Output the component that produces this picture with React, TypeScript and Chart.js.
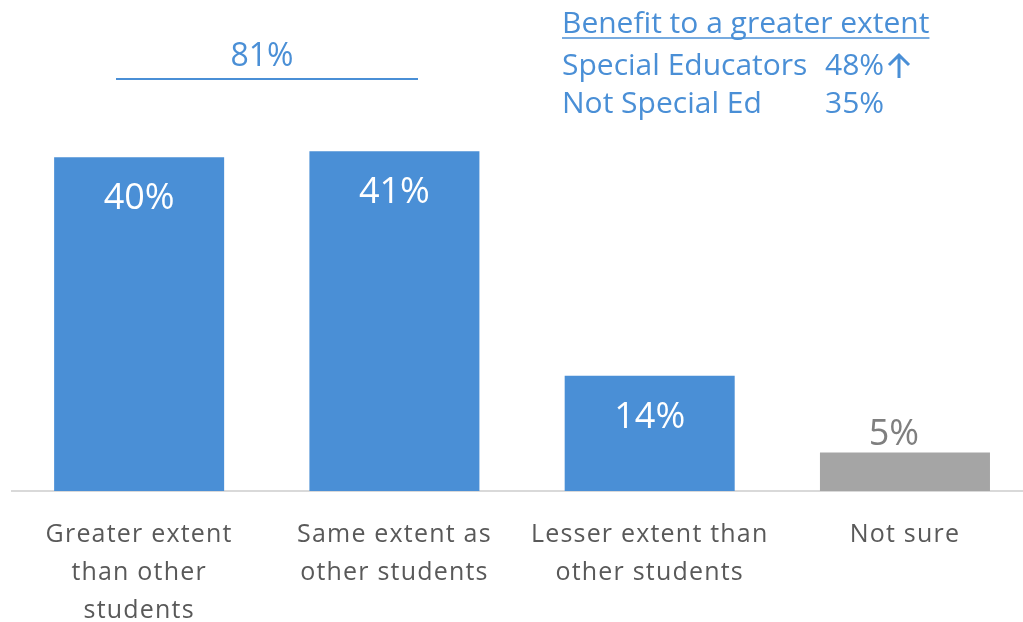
import React, { useEffect, useRef } from 'react';
import { Chart, registerables } from 'chart.js';

Chart.register(...registerables);

const CATEGORIES: string[][] = [
  ['Greater extent', 'than other', 'students'],
  ['Same extent as', 'other students'],
  ['Lesser extent than', 'other students'],
  ['Not sure'],
];
const VALUES = [40, 40.7, 13.8, 4.6];
const VALUE_LABELS = ['40%', '41%', '14%', '5%'];
const BAR_COLORS = ['#4a8fd6', '#4a8fd6', '#4a8fd6', '#a5a5a5'];
const LABEL_INSIDE = [true, true, true, false];

const TOTAL_LABEL = '81%';
const NOTE_TITLE = 'Benefit to a greater extent';
const NOTE_GROUPS = ['Special Educators', 'Not Special Ed'];
const NOTE_VALUES = ['48%', '35%'];
const NOTE_UP = [true, false];

const BLUE = '#4a8fd6';
const FONT = '"Open Sans", Lato, sans-serif';

const spacing = {
  id: 'spacing',
  beforeDraw(chart: any) {
    (chart.ctx as any).letterSpacing = '1.2px';
  },
};

const annotations = {
  id: 'annotations',
  afterDatasetsDraw(chart: any) {
    const ctx = chart.ctx as CanvasRenderingContext2D;
    const meta = chart.getDatasetMeta(0);
    ctx.save();
    (ctx as any).letterSpacing = '0px';
    // bar value labels
    meta.data.forEach((el: any, i: number) => {
      const inside = LABEL_INSIDE[i];
      ctx.font = `36px ${FONT}`;
      ctx.textAlign = 'center';
      ctx.textBaseline = 'alphabetic';
      ctx.fillStyle = inside ? '#ffffff' : '#7f7f7f';
      const y = inside ? el.y + 52 : el.y - 8;
      const x = inside ? el.x : el.x - 11;
      ctx.fillText(VALUE_LABELS[i], x, y);
    });

    // total bracket
    ctx.fillStyle = BLUE;
    ctx.font = `32px ${FONT}`;
    ctx.textAlign = 'center';
    ctx.fillText(TOTAL_LABEL, 262, 66);
    ctx.strokeStyle = BLUE;
    ctx.lineWidth = 2;
    ctx.beginPath();
    ctx.moveTo(116, 79);
    ctx.lineTo(418, 79);
    ctx.stroke();

    // note block
    ctx.textAlign = 'left';
    ctx.font = `30px ${FONT}`;
    ctx.fillText(NOTE_TITLE, 562, 33);
    const w = ctx.measureText(NOTE_TITLE).width;
    ctx.lineWidth = 1.5;
    ctx.beginPath();
    ctx.moveTo(562, 38);
    ctx.lineTo(562 + w, 38);
    ctx.stroke();
    const baselines = [75, 113];
    NOTE_GROUPS.forEach((g, i) => {
      ctx.fillText(g, 562, baselines[i]);
      ctx.fillText(NOTE_VALUES[i], 825, baselines[i]);
      if (NOTE_UP[i]) {
        const ax = 899;
        ctx.lineWidth = 3;
        ctx.beginPath();
        ctx.moveTo(ax, baselines[i] + 3);
        ctx.lineTo(ax, baselines[i] - 20);
        ctx.moveTo(ax - 10, baselines[i] - 10);
        ctx.lineTo(ax, baselines[i] - 20);
        ctx.lineTo(ax + 10, baselines[i] - 10);
        ctx.stroke();
      }
    });
    ctx.restore();
  },
};

export default function App() {
  const ref = useRef<HTMLCanvasElement | null>(null);
  useEffect(() => {
    if (!ref.current) return;
    const chart = new Chart(ref.current, {
      type: 'bar',
      data: {
        labels: CATEGORIES,
        datasets: [
          {
            data: VALUES,
            backgroundColor: BAR_COLORS,
            barPercentage: 0.666,
            categoryPercentage: 1,
          },
        ],
      },
      options: {
        animation: false,
        responsive: false,
        maintainAspectRatio: false,
        layout: { padding: { left: 11.5, right: 7.4, top: 32, bottom: 0 } },
        plugins: { legend: { display: false }, tooltip: { enabled: false } },
        scales: {
          x: {
            grid: { display: false, drawTicks: false },
            border: { display: true, color: '#d9d9d9', width: 2 },
            ticks: {
              color: '#595959',
              font: { family: FONT, size: 25, lineHeight: '38px' } as any,
              padding: 25,
              maxRotation: 0,
              autoSkip: false,
            },
            afterFit: (scale: any) => {
              scale.height = 131;
            },
          },
          y: { display: false, min: 0, max: 55 },
        },
      },
      plugins: [spacing, annotations],
    });
    return () => chart.destroy();
  }, []);
  return (
    <div style={{ position: 'absolute', left: 0, top: 0, width: 1023, height: 622, overflow: 'hidden', background: '#fff' }}>
      <canvas ref={ref} width={1040} height={622} style={{ width: 1040, height: 622, display: 'block' }} />
    </div>
  );
}
